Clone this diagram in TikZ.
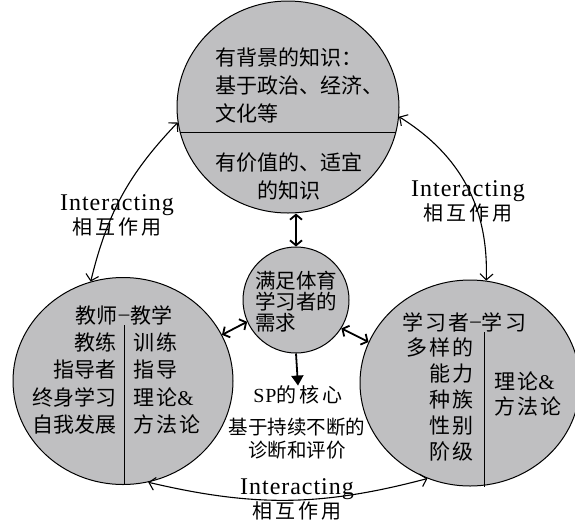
\documentclass[tikz,border=0pt]{standalone}
\usepackage{fontspec}
\setmainfont{Liberation Serif}
\newfontfamily\cjk{Noto Sans CJK SC}
\newfontfamily\cjkmid{Noto Sans CJK SC}[LetterSpace=10]
\newfontfamily\cjkwide{Noto Sans CJK SC}[LetterSpace=15]
\newfontfamily\serifwide{Liberation Serif}[LetterSpace=4]
\usetikzlibrary{shapes.geometric,arrows.meta}
\definecolor{fillgray}{RGB}{191,191,193}
\begin{document}
\begin{tikzpicture}[x=1pt,y=-1pt,
  bubble/.style={ellipse, draw=black, line width=1pt, fill=fillgray, inner sep=0pt},
  cjktext/.style={inner sep=0pt, font=\fontsize{21}{27.5}\selectfont\cjk},
  divline/.style={line width=1pt},
  iarrow/.style={line width=1.1pt, {Straight Barb[length=6pt,width=13pt]}-{Straight Barb[length=6pt,width=13pt]}},
  sarrow/.style={line width=1.8pt, {Straight Barb[length=5pt,width=12pt]}-{Straight Barb[length=5pt,width=12pt]}},
  ilbl/.style={inner sep=0pt, align=center, font=\fontsize{24}{24.5}\selectfont\serifwide},
  blbl/.style={inner sep=0pt, align=center, font=\fontsize{19.5}{23}\selectfont\cjk},
]
\useasboundingbox (0,0) rectangle (575,523);
% bubbles
\node[bubble, minimum width=222pt, minimum height=212pt] (top) at (288,107) {};
\node[bubble, minimum width=220pt, minimum height=207pt] (left) at (123,381) {};
\node[bubble, minimum width=220pt, minimum height=206pt] (right) at (470,383) {};
\node[bubble, circle, minimum size=106pt] (mid) at (296,300) {};
% top bubble
\draw[divline] (top.193.6) -- (top.-13.6);
\node[cjktext, anchor=west, align=left, font=\fontsize{21}{28}\selectfont\cjk] (topA) at (215,85) {有背景的知识：\\基于政治、经济、\\文化等};
\node[cjktext, align=center] (topB) at (289,176.5) {有价值的、适宜\\的知识};
% left bubble
\node[cjktext] (ltitle) at (124,315) {教师\kern1pt\raisebox{.12em}{\rmfamily –}\kern1pt教学};
\node[cjktext, anchor=east, align=right] (lcol) at (117,383.5) {教练\\指导者\\终身学习\\自我发展};
\node[cjktext, anchor=west, align=left, font=\fontsize{21}{27.5}\selectfont\cjkmid] (rcol) at (133,383.5) {训练\\指导\\理论{\rmfamily\&}\\方法论};
\coordinate (lv) at (124,325);
\draw[divline] (lv) -- (lv |- left.south);
% right bubble
\node[cjktext, anchor=west, font=\fontsize{21}{27.5}\selectfont\cjkmid] (rtitle) at (402,322) {学习者\kern1pt\raisebox{.12em}{\rmfamily –}\kern1pt学习};
\node[cjktext, anchor=east, align=right, font=\fontsize{21}{26}\selectfont\cjkmid] (rl) at (474,400) {多样的\\能力\\种族\\性别\\阶级};
\node[cjktext, anchor=west, align=left, font=\fontsize{21}{25}\selectfont\cjkmid] (rr) at (494,394.5) {理论{\rmfamily\&}\\方法论};
\coordinate (rv) at (484,332);
\draw[divline] (rv) -- (rv |- right.south);
% middle bubble
\node[cjktext, anchor=west, align=left, font=\fontsize{20.5}{21}\selectfont\cjk] (mtext) at (255,302) {满足体育\\学习者的\\需求};
% core text
\node[blbl, font=\fontsize{20}{23}\selectfont\cjkwide] (sp) at (298,395) {{\serifwide SP}的核心};
\node[blbl] (diag) at (297,438.5) {基于持续不断的\\诊断和评价};
% short arrows
\draw[sarrow] (mid.north) -- (mid.north |- top.south);
\draw[sarrow] (mid.204) -- (left.25.7);
\draw[sarrow] (mid.-32) -- (right.158.8);
\draw[line width=1.8pt, -{Triangle[length=10pt,width=12pt]}] (mid.south) -- (sp.north);
% interacting arrows
\draw[iarrow] (top.188.4) to[bend right=15] (left.108.6);
\draw[iarrow] (top.-5) to[bend left=30] (right.81);
\draw[iarrow] (left.-76.6) to[bend right=14] (right.246.5);
% interacting labels
\node[ilbl] (i1) at (117,215.5) {Interacting\\{\fontsize{20}{24}\selectfont\cjkwide 相互作用}};
\node[ilbl] (i2) at (468,201.5) {Interacting\\{\fontsize{20}{24}\selectfont\cjkwide 相互作用}};
\node[ilbl] (i3) at (297,499.5) {Interacting\\{\fontsize{20}{24}\selectfont\cjkwide 相互作用}};
\end{tikzpicture}
\end{document}
